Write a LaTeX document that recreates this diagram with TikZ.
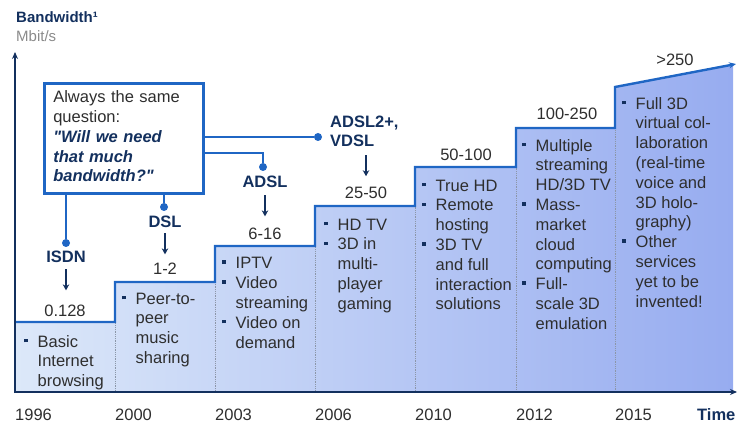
\documentclass[tikz,border=0pt]{standalone}
\usepackage{fontspec}
\setsansfont{Liberation Sans}[Ligatures=TeXOff]
\definecolor{navy}{HTML}{13305E}
\definecolor{stepblue}{HTML}{1F66C4}
\definecolor{txtgray}{HTML}{2E2E2E}
\definecolor{unitgray}{HTML}{8A8A8A}
\definecolor{fillleft}{HTML}{DCE8F9}
\definecolor{fillright}{HTML}{97ACF0}
\definecolor{sepgray}{HTML}{8C96A8}
\usetikzlibrary{arrows.meta, positioning, calc}
\newcommand{\bodyfont}{\fontsize{16.5}{19.8}\selectfont}
\newcommand{\bul}{\makebox[13.5pt][l]{\textcolor{navy}{\rule[4.8pt]{3.6pt}{3.6pt}}}}
\newcommand{\ind}{\hspace*{13.5pt}}

\begin{document}
\begin{tikzpicture}[x=1pt, y=-1pt, every node/.style={font=\sffamily},
    item/.style={anchor=north west, inner sep=0pt, align=left, text=txtgray, font=\sffamily\bodyfont},
    value/.style={anchor=base, inner sep=0pt, text=txtgray, font=\sffamily\bodyfont},
    tech/.style={anchor=base, inner sep=0pt, text=navy, font=\bfseries\sffamily\bodyfont},
    year/.style={anchor=base west, inner sep=0pt, text=txtgray, font=\sffamily\bodyfont},
    dot/.style={circle, fill=stepblue, inner sep=0pt, minimum size=8pt},
    link/.style={stepblue, line width=2.6pt},
    pointer/.style={navy, line width=1.6pt, -{Stealth[length=6pt,width=6.5pt]}}]
  \useasboundingbox (0,0) rectangle (737,422);

  \shade[left color=fillleft, right color=fillright]
    (15,392) -- (15,322) -- (115,322) -- (115,282) -- (215,282) -- (215,246)
    -- (315,246) -- (315,206) -- (415,206) -- (415,167) -- (516,167)
    -- (516,128) -- (615,128) -- (615,87) -- (733,65) -- (733,392) -- cycle;
  \foreach \x/\y in {115/282, 215/246, 315/206, 415/167, 516/128, 615/87}
    \draw[sepgray, densely dotted, line width=0.8pt] (\x,\y) -- (\x,392);
  \draw[stepblue, line width=2.4pt, -{Stealth[length=7pt,width=6pt]}]
    (15,322) -- (115,322) -- (115,282) -- (215,282) -- (215,246) -- (315,246)
    -- (315,206) -- (415,206) -- (415,167) -- (516,167) -- (516,128)
    -- (615,128) -- (615,87) -- (736,64);

  \draw[navy, line width=2.4pt, -{Stealth[length=7pt,width=6pt]}] (15,393) -- (15,52);
  \draw[navy, line width=2.4pt, -{Stealth[length=7pt,width=6pt]}] (14,392) -- (737,392);
  \node[anchor=base west, inner sep=0pt, text=navy, font=\bfseries\sffamily\fontsize{15}{18}\selectfont] (ylabel) at (16,23) {Bandwidth¹};
  \node[anchor=base west, inner sep=0pt, text=unitgray, font=\sffamily\fontsize{15}{18}\selectfont] (yunit) at (16,42) {Mbit/s};

  \foreach \yr/\x in {1996/15, 2000/115, 2003/215, 2006/315, 2010/415, 2012/516, 2015/615}
    \node[year] (y\yr) at (\x,420) {\yr};
  \node[year, text=navy, font=\bfseries\sffamily\bodyfont] (time) at (697,420) {Time};

  \node[value] (v1) at (65,317) {0.128};
  \node[value] (v2) at (165,275) {1-2};
  \node[value] (v3) at (265,240) {6-16};
  \node[value] (v4) at (366,199) {25-50};
  \node[value] (v5) at (466,161) {50-100};
  \node[value] (v6) at (567,120) {100-250};
  \node[value] (v7) at (675,66) {>250};

  \node[tech] (isdn) at (66,263) {ISDN};
  \node[tech] (dsl) at (165,228) {DSL};
  \node[tech] (adsl) at (265,188) {ADSL};
  \node[tech, anchor=north west, align=left] (vdsl) at (330,113) {\strut ADSL2+,\\VDSL};
  \draw[pointer] (isdn.south) ++(0,6) -- ++(0,21);
  \draw[pointer] (dsl.south) ++(0,5) -- ++(0,21);
  \draw[pointer] (adsl.south) ++(0,7) -- ++(0,21);
  \draw[pointer] (vdsl.south -| v4.north) ++(0,8) -- ++(0,21);

  \node[draw=stepblue, line width=2.6pt, fill=white, anchor=north west, text width=141pt,
    inner xsep=9pt, inner ysep=5.5pt, align=left, text=txtgray, font=\sffamily\bodyfont] (question) at (43,82)
    {\strut Always the same\\question:\\\color{navy}\bfseries\itshape "Will we need\\that much\\bandwidth?"\strut};

  \node[dot] (isdndot) at (66,243) {};
  \node[dot] (dsldot) at (164,207) {};
  \node[dot] (adsldot) at (263,167) {};
  \node[dot] (vdsldot) at (318,137) {};
  \coordinate (adslturn) at (263,153);
  \draw[link] (question.south -| isdndot) -- (isdndot);
  \draw[link] (question.south -| dsldot) -- (dsldot);
  \draw[link] (question.east |- adslturn) -- (adslturn) -- (adsldot);
  \draw[link] (question.east |- vdsldot) -- (vdsldot);

  \node[item] (uses1) at (24,333.1) {\strut\bul Basic\\\ind Internet\\\ind browsing};
  \node[item] (uses2) at (122,290.1) {\strut\bul Peer-to-\\\ind peer\\\ind music\\\ind sharing};
  \node[item] (uses3) at (222,254.8) {\strut\bul IPTV\\\bul Video\\\ind streaming\\\bul Video on\\\ind demand};
  \node[item] (uses4) at (324,216.1) {\strut\bul HD TV\\\bul 3D in\\\ind multi-\\\ind player\\\ind gaming};
  \node[item] (uses5) at (422,177.1) {\strut\bul True HD\\\bul Remote\\\ind hosting\\\bul 3D TV\\\ind and full\\\ind interaction\\\ind solutions};
  \node[item] (uses6) at (522,137.1) {\strut\bul Multiple\\\ind streaming\\\ind HD/3D TV\\\bul Mass-\\\ind market\\\ind cloud\\\ind computing\\\bul Full-\\\ind scale 3D\\\ind emulation};
  \node[item] (uses7) at (622,95.1) {\strut\bul Full 3D\\\ind virtual col-\\\ind laboration\\\ind (real-time\\\ind voice and\\\ind 3D holo-\\\ind graphy)\\\bul Other\\\ind services\\\ind yet to be\\\ind invented!};
\end{tikzpicture}
\end{document}
